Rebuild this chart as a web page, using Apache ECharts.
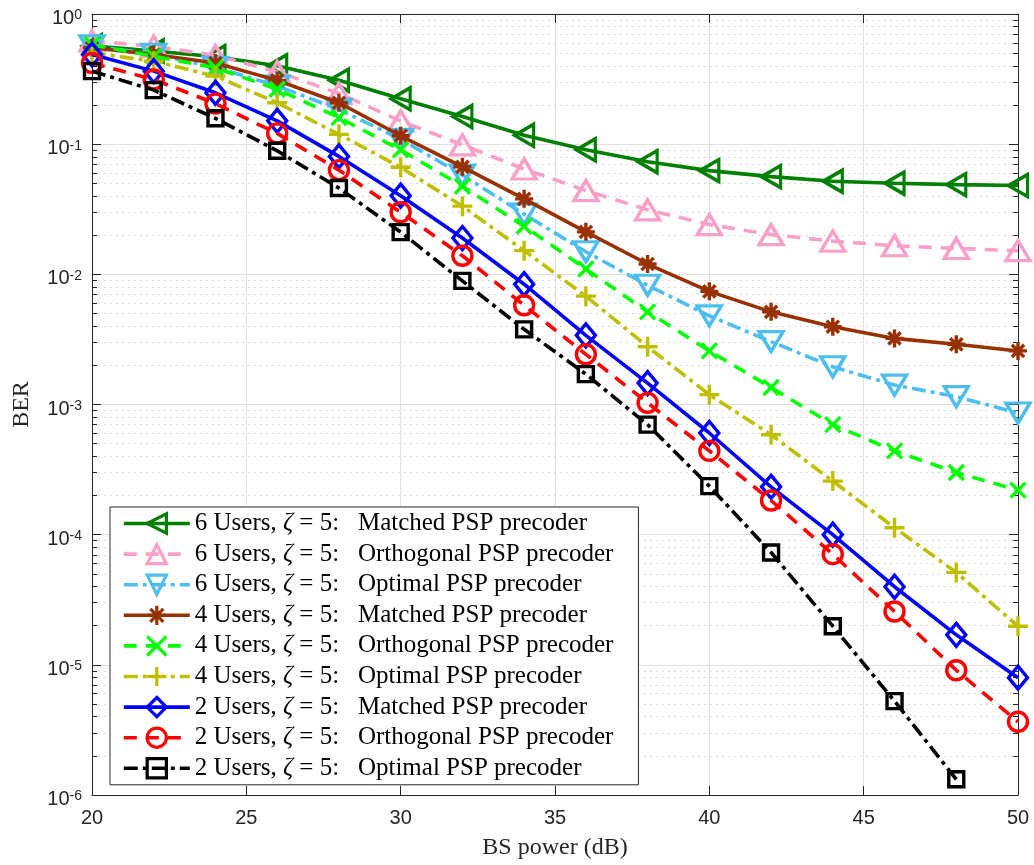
<!DOCTYPE html>
<html><head><meta charset="utf-8">
<script src="https://cdn.jsdelivr.net/npm/echarts@6/dist/echarts.min.js"></script>
<style>html,body{margin:0;padding:0;background:#fff}#c{width:1034px;height:865px}</style>
</head><body><div id="c"></div>
<script>
const xValues = [20,22,24,26,28,30,32,34,36,38,40,42,44,46,48,50];
const xTicks = [20,25,30,35,40,45,50];
const seriesNames = [
  '6 Users, ζ = 5:   Matched PSP precoder',
  '6 Users, ζ = 5:   Orthogonal PSP precoder',
  '6 Users, ζ = 5:   Optimal PSP precoder',
  '4 Users, ζ = 5:   Matched PSP precoder',
  '4 Users, ζ = 5:   Orthogonal PSP precoder',
  '4 Users, ζ = 5:   Optimal PSP precoder',
  '2 Users, ζ = 5:   Matched PSP precoder',
  '2 Users, ζ = 5:   Orthogonal PSP precoder',
  '2 Users, ζ = 5:   Optimal PSP precoder'
];
const users6Matched = [0.57,0.52,0.47,0.40,0.31,0.223,0.163,0.117,0.0905,0.0733,0.0626,0.0563,0.0519,0.0501,0.0489,0.0481];
const users6Orthogonal = [0.62,0.565,0.48,0.36,0.245,0.151,0.0988,0.0645,0.044,0.0313,0.0241,0.0202,0.018,0.0166,0.0158,0.0152];
const users6Optimal = [0.57,0.49,0.39,0.28,0.185,0.109,0.058,0.029,0.0149,0.00824,0.0048,0.00304,0.00195,0.00141,0.00115,0.00086];
const users4Matched = [0.55,0.488,0.42,0.309,0.208,0.116,0.067,0.038,0.0212,0.012,0.0074,0.00515,0.00396,0.00322,0.0029,0.00258];
const users4Orthogonal = [0.58,0.474,0.386,0.264,0.16,0.0905,0.0475,0.0234,0.011,0.00515,0.00258,0.00135,0.0007,0.00044,0.0003,0.00022];
const users4Optimal = [0.503,0.434,0.333,0.208,0.119,0.0664,0.0334,0.0152,0.0068,0.00278,0.00119,0.000586,0.000258,0.000113,0.0000513,0.0000198];
const users2Matched = [0.488,0.364,0.248,0.151,0.0805,0.0402,0.019,0.0084,0.0034,0.00146,0.000604,0.000233,0.0001,0.0000398,0.000017,0.00000797];
const users2Orthogonal = [0.42,0.314,0.205,0.121,0.0632,0.030,0.0139,0.00578,0.00243,0.00103,0.00044,0.000183,0.0000708,0.0000257,0.00000908,0.00000365];
const users2Optimal = [0.364,0.26,0.158,0.0889,0.046,0.0211,0.0089,0.00378,0.00171,0.0007,0.000236,0.000073,0.0000198,0.00000526,0.00000132,null];

const minorValues = [];
for (let k = -6; k < 0; k++) for (let m = 2; m <= 9; m++) minorValues.push(+(m * Math.pow(10, k)).toPrecision(3));

const allData = [users6Matched, users6Orthogonal, users6Optimal, users4Matched, users4Orthogonal, users4Optimal, users2Matched, users2Orthogonal, users2Optimal];
const dash = [13, 9];
const dashDot = [14, 5, 4, 5];
const styles = [
  {c:'#007f00', s:'path://M0,5L10,0L10,10Z', sz:[19,22], d:'solid'},
  {c:'#f8a0c8', s:'triangle', sz:[24,20], d:dash},
  {c:'#4dbeee', s:'triangle', sz:[24,20], d:dashDot, r:180},
  {c:'#993000', s:'path://M5,0L5,10M0,5L10,5M1.6,1.6L8.4,8.4M8.4,1.6L1.6,8.4', sz:18, d:'solid'},
  {c:'#00ff00', s:'path://M0,0L10,10M10,0L0,10', sz:15, d:dash},
  {c:'#bfbf00', s:'path://M5,0L5,10M0,5L10,5', sz:20, d:dashDot},
  {c:'#0000ff', s:'diamond', sz:[19,23], d:'solid'},
  {c:'#ff0000', s:'circle', sz:19, d:dash},
  {c:'#000000', s:'rect', sz:15, d:dashDot}
];

const series = allData.map((arr, i) => {
  const st = styles[i];
  return {
    name: seriesNames[i], type: 'line', xAxisIndex: 0, yAxisIndex: 0,
    data: xValues.map((x, j) => [x, arr[j]]).filter(p => p[1] != null),
    symbol: st.s, symbolSize: st.sz, symbolRotate: st.r || 0,
    showSymbol: true, showAllSymbol: true, clip: true,
    lineStyle: {color: st.c, width: 3.6, type: st.d},
    itemStyle: {color: 'rgba(255,255,255,0)', borderColor: st.c, borderWidth: 3.4},
    emphasis: {disabled: true},
    z: 3 + i
  };
});

const axisColor = '#262626';
const labelFont = 'Liberation Sans';
const serif = 'Liberation Serif';

const logCommon = {type: 'log', logBase: 10, min: 1e-6, max: 1, gridIndex: 0};

const chart = echarts.init(document.getElementById('c'));
chart.setOption({
  animation: false,
  backgroundColor: '#fff',
  grid: {left: 92, right: 16, top: 14, bottom: 67, containLabel: false},
  xAxis: [
    {type: 'value', min: 20, max: 50, interval: 5, position: 'bottom',
     name: 'BS power (dB)', nameLocation: 'middle', nameGap: 41,
     nameTextStyle: {fontFamily: serif, fontSize: 24, color: axisColor},
     axisLine: {show: true, lineStyle: {color: axisColor, width: 1}},
     axisTick: {show: true, inside: true, length: 9, lineStyle: {color: axisColor}},
     axisLabel: {fontFamily: labelFont, fontSize: 20, color: axisColor, margin: 13,
       formatter: v => xTicks.indexOf(v) >= 0 ? String(v) : ''},
     splitLine: {show: true, lineStyle: {color: '#e0e0e0', width: 1}}},
    {type: 'value', min: 20, max: 50, interval: 5, position: 'top',
     axisLine: {show: true, onZero: false, lineStyle: {color: axisColor, width: 1}},
     axisTick: {show: true, inside: true, length: 9, lineStyle: {color: axisColor}},
     axisLabel: {show: false}, splitLine: {show: false}}
  ],
  yAxis: [
    Object.assign({}, logCommon, {position: 'left', splitNumber: 6,
     name: 'BER', nameLocation: 'middle', nameGap: 58, nameRotate: 90,
     nameTextStyle: {fontFamily: serif, fontSize: 24, color: axisColor},
     axisLine: {show: true, lineStyle: {color: axisColor, width: 1}},
     axisTick: {show: true, inside: true, length: 9, lineStyle: {color: axisColor}},
     axisLabel: {margin: 10, padding: [9, 0, 0, 0],
       formatter: v => '{b|10}{s|' + Math.round(Math.log10(v)) + '}',
       rich: {b: {fontFamily: labelFont, fontSize: 20, color: axisColor, lineHeight: 20, padding: [3.5, 0, 0, 0], verticalAlign: 'bottom'},
              s: {fontFamily: labelFont, fontSize: 14, color: axisColor, lineHeight: 14, verticalAlign: 'top'}}},
     splitLine: {show: true, lineStyle: {color: '#e0e0e0', width: 1}}}),
    Object.assign({}, logCommon, {position: 'left',
     axisLine: {show: false},
     axisTick: {show: true, inside: true, length: 5, customValues: minorValues, lineStyle: {color: axisColor}},
     axisLabel: {show: false},
     splitLine: {show: true, lineStyle: {color: '#cfcfcf', width: 1, type: [1.5, 4.5]}}}),
    Object.assign({}, logCommon, {position: 'right', splitNumber: 6,
     axisLine: {show: true, onZero: false, lineStyle: {color: axisColor, width: 1}},
     axisTick: {show: true, inside: true, length: 9, lineStyle: {color: axisColor}},
     axisLabel: {show: false}, splitLine: {show: false}}),
    Object.assign({}, logCommon, {position: 'right',
     axisLine: {show: false},
     axisTick: {show: true, inside: true, length: 5, customValues: minorValues, lineStyle: {color: axisColor}},
     axisLabel: {show: false}, splitLine: {show: false}})
  ],
  legend: {
    show: true, orient: 'vertical', left: 110, top: 507,
    padding: [4, 25, 4, 12], itemGap: 5.6, itemWidth: 66, itemHeight: 24,
    backgroundColor: '#fff', borderColor: axisColor, borderWidth: 1,
    selectedMode: false,
    lineStyle: {width: 3.6},
    itemStyle: {borderWidth: 3.2},
    textStyle: {fontFamily: serif, fontSize: 25, color: '#000',
      rich: {i: {fontFamily: serif, fontSize: 25, fontStyle: 'italic', color: '#000'}}},
    formatter: n => n.replace('ζ', '{i|ζ}'),
    data: seriesNames
  },
  series: series
});
</script>
</body></html>
